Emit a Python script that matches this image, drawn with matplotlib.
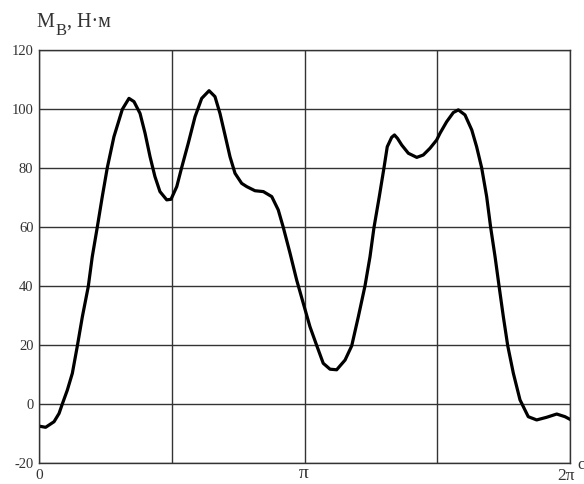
import numpy as np
import matplotlib.pyplot as plt

# angle (degrees) and torque M_B (N*m)
phi_deg = [0, 4.5, 10.2, 13.6, 15.8, 19.2, 22.6, 26.0, 29.4, 33.4, 36.1, 39.5,
           42.9, 46.3, 50.8, 56.5, 61.0, 64.4, 68.5, 71.9, 75.3, 78.6, 82.0,
           86.6, 89.5, 93.4, 96.7, 101.2, 105.8, 110.3, 115.3, 119.3, 122.7,
           126.1, 129.5, 132.9, 137.4, 140.8, 146.4, 152.1, 157.8, 162.2,
           165.6, 170.2, 174.7, 179.2, 183.7, 188.3, 192.7, 197.3, 201.8,
           207.5, 212.0, 216.5, 221.0, 224.4, 227.1, 230.7, 233.9, 236.1,
           239.1, 241.0, 243.1, 245.9, 250.4, 256.1, 260.5, 265.1, 269.6,
           271.9, 276.4, 280.9, 284.3, 288.8, 293.4, 296.7, 300.1, 303.5,
           306.2, 309.2, 311.9, 314.8, 317.8, 321.6, 326.1, 331.7, 337.4,
           344.2, 351.0, 356.6, 360]
m_b = [-7.5, -7.9, -6.0, -3.2, 0.0, 4.7, 10.4, 19.7, 29.6, 39.8, 49.9, 59.9,
       70.3, 80.1, 90.6, 99.9, 103.6, 102.5, 98.5, 91.8, 83.8, 77.1, 72.0,
       69.2, 69.4, 73.7, 80.1, 88.4, 97.4, 103.6, 106.2, 104.2, 98.5,
       91.2, 83.8, 78.2, 74.8, 73.7, 72.3, 72.0, 70.3, 65.8,
       59.9, 51.1, 42.0, 34.1, 26.2, 19.8, 13.8, 11.8, 11.6,
       14.9, 19.7, 29.6, 40.0, 49.9, 59.8, 70.3, 80.1, 87.2,
       90.4, 91.2, 90.0, 87.8, 85.0, 83.6, 84.4, 86.7, 89.5,
       91.8, 95.7, 98.8, 99.7, 98.0, 92.9, 87.2, 80.1, 70.3,
       59.9, 49.9, 40.0, 29.6, 19.7, 10.4, 1.4, -4.3, -5.4,
       -4.5, -3.4, -4.3, -5.2]

x = np.radians(phi_deg)

plt.rcParams['font.family'] = 'Liberation Serif'
gray = '#333333'

fig = plt.figure(figsize=(5.84, 4.84), dpi=100)
ax = fig.add_axes([39/584, 21/484, 531/584, 413/484])

ax.plot(x, m_b, color='black', lw=2.3, solid_joinstyle='round')

ax.set_xlim(0, 2*np.pi)
ax.set_ylim(-20, 120)
ax.set_xticks([0, np.pi/2, np.pi, 3*np.pi/2, 2*np.pi])
ax.set_xticklabels(['', '', '', '', ''])
ax.set_yticks(range(-20, 121, 20))
ax.set_yticklabels([str(v) for v in range(-20, 121, 20)], fontsize=10.5)
ax.tick_params(length=0, pad=4, colors=gray)
ax.grid(True, color=gray, lw=1.0)
for s in ax.spines.values():
    s.set_color(gray)
    s.set_linewidth(1.0)

# x labels only at 0, pi, 2pi
fig.text(39/584, 15/484, '0', ha='center', va='top', fontsize=11, color=gray)
fig.text(304/584, 19/484, 'π', ha='center', va='top', fontsize=14, color=gray)
fig.text(566/584, 16/484, '2π', ha='center', va='top', fontsize=12.5, color=gray)
fig.text(577/584, 27/484, 'c', ha='left', va='top', fontsize=12, color=gray)

# axis caption M_B, N*m
fig.text(36/584, 457/484, 'M', ha='left', va='baseline', fontsize=14.5, color=gray)
fig.text(56/584, 449/484, 'B', ha='left', va='baseline', fontsize=12, color=gray)
fig.text(67/584, 457/484, ', Н·м', ha='left', va='baseline', fontsize=14.5, color=gray)

fig.savefig('out.png', dpi=100)
